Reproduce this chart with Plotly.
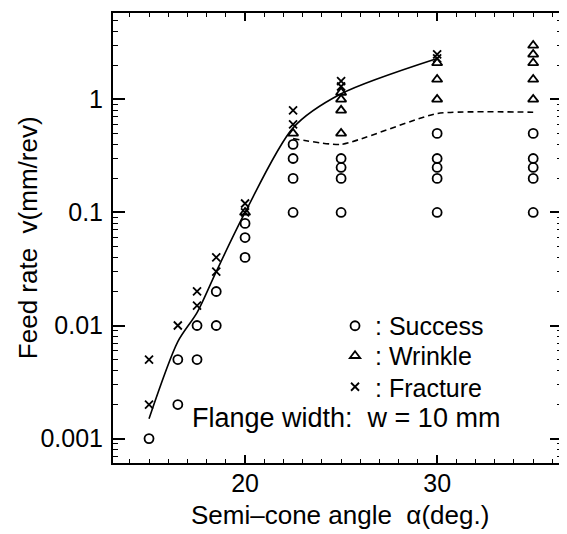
import numpy as np
import plotly.graph_objects as go

# ---- data ----
success_x = [15, 16.5, 16.5, 17.5, 17.5, 18.5, 18.5, 20, 20, 20,
             22.5, 22.5, 22.5, 22.5, 25, 25, 25, 25,
             30, 30, 30, 30, 30, 35, 35, 35, 35, 35]
success_y = [0.001, 0.002, 0.005, 0.005, 0.01, 0.01, 0.02, 0.04, 0.06, 0.08,
             0.1, 0.2, 0.3, 0.4, 0.1, 0.2, 0.25, 0.3,
             0.1, 0.2, 0.25, 0.3, 0.5, 0.1, 0.2, 0.25, 0.3, 0.5]

wrinkle_x = [20, 22.5, 25, 25, 25, 25, 30, 30, 30, 35, 35, 35, 35, 35]
wrinkle_y = [0.1, 0.5, 0.5, 0.8, 1.0, 1.15, 1.0, 1.5, 2.1, 1.0, 1.5, 2.1, 2.5, 3.0]

fracture_x = [15, 15, 16.5, 17.5, 17.5, 18.5, 18.5, 20, 20, 22.5, 22.5, 25, 25, 30, 30]
fracture_y = [0.002, 0.005, 0.01, 0.015, 0.02, 0.03, 0.04, 0.1, 0.12, 0.6, 0.8, 1.3, 1.45, 2.3, 2.5]

solid_x = [15, 16.5, 17.5, 18.5, 20, 22.5, 25, 30]
solid_y = [0.0015, 0.0072, 0.013, 0.03, 0.1, 0.56, 1.12, 2.3]

dashed_x = [22.5, 25, 30, 35]
dashed_y = [0.45, 0.4, 0.75, 0.77]

ytick_vals = [0.001, 0.01, 0.1, 1]
ytick_text = ["0.001", "0.01", "0.1", "1"]
xtick_vals = [20, 30]

FONT = "Liberation Sans, Arial, sans-serif"
FS = 25

fig = go.Figure()
fig.add_trace(go.Scatter(x=solid_x, y=solid_y, mode="lines",
                         line=dict(color="black", width=1.6, shape="spline", smoothing=0.8),
                         showlegend=False, hoverinfo="skip"))
fig.add_trace(go.Scatter(x=dashed_x, y=dashed_y, mode="lines",
                         line=dict(color="black", width=1.6, dash="6px,4px", shape="spline", smoothing=0.5),
                         showlegend=False, hoverinfo="skip"))
fig.add_trace(go.Scatter(x=success_x, y=success_y, mode="markers", name=": Success", legend="legend",
                         marker=dict(symbol="circle-open", size=9, color="black",
                                     line=dict(width=1.8, color="black"))))
fig.add_trace(go.Scatter(x=wrinkle_x, y=wrinkle_y, mode="markers", name=": Wrinkle", legend="legend2",
                         marker=dict(symbol="triangle-up-open", size=9, color="black",
                                     line=dict(width=1.8, color="black"))))
fig.add_trace(go.Scatter(x=fracture_x, y=fracture_y, mode="markers", name=": Fracture", legend="legend3",
                         marker=dict(symbol="x-thin-open", size=8, color="black",
                                     line=dict(width=1.8, color="black"))))

minor_y = [m * 10.0 ** e for e in range(-4, 1) for m in range(2, 10)]

leg_common = dict(xanchor="left", yanchor="top", bgcolor="rgba(0,0,0,0)",
                  font=dict(size=FS, family=FONT, color="black"), itemwidth=30)

# page body has an 8px default margin, so the figure is sized to fit the window
fig.update_layout(
    width=559, height=526,
    margin=dict(l=105, r=5, t=5, b=71),
    paper_bgcolor="white", plot_bgcolor="white",
    font=dict(family=FONT, size=FS, color="black"),
    showlegend=True,
    legend=dict(x=0.4945, y=0.3556, **leg_common),
    legend2=dict(x=0.4945, y=0.2889, **leg_common),
    legend3=dict(x=0.4945, y=0.220, **leg_common),
    annotations=[
        dict(text="Flange width:  w = 10 mm", x=0.52, y=0.101, xref="paper", yref="paper",
             showarrow=False, xanchor="center", yanchor="middle", font=dict(size=27, family=FONT)),
        dict(text="Semi\u2013cone angle  \u03b1(deg.)", x=0.5056, y=-0.116, xref="paper", yref="paper",
             showarrow=False, xanchor="center", yanchor="middle", font=dict(size=26, family=FONT)),
        dict(text="Feed rate  v(mm/rev)", x=-0.189, y=0.5, xref="paper", yref="paper", textangle=-90,
             showarrow=False, xanchor="center", yanchor="middle", font=dict(size=26, family=FONT)),
    ],
)
fig.update_xaxes(range=[13.125, 36.5], showline=True, linecolor="black", linewidth=2,
                 mirror="allticks", ticks="inside", ticklen=8, tickwidth=1.5, tickcolor="black",
                 tickvals=xtick_vals, showgrid=False, zeroline=False, automargin=False,
                 tickfont=dict(size=FS), ticklabelstandoff=-3,
                 minor=dict(ticks="inside", ticklen=4, tickwidth=1.2, tickcolor="black", dtick=1, tick0=0, showgrid=False))
fig.update_yaxes(type="log", range=[-3.216, 0.764], showline=True, linecolor="black", linewidth=2,
                 mirror="allticks", ticks="inside", ticklen=12, tickwidth=1.5, tickcolor="black",
                 tickvals=ytick_vals, ticktext=ytick_text, showgrid=False, zeroline=False, automargin=False,
                 tickfont=dict(size=FS), ticklabelstandoff=3,
                 minor=dict(ticks="inside", ticklen=5, tickwidth=1.2, tickcolor="black",
                            tickvals=minor_y, showgrid=False))

fig.write_html("out.html")
